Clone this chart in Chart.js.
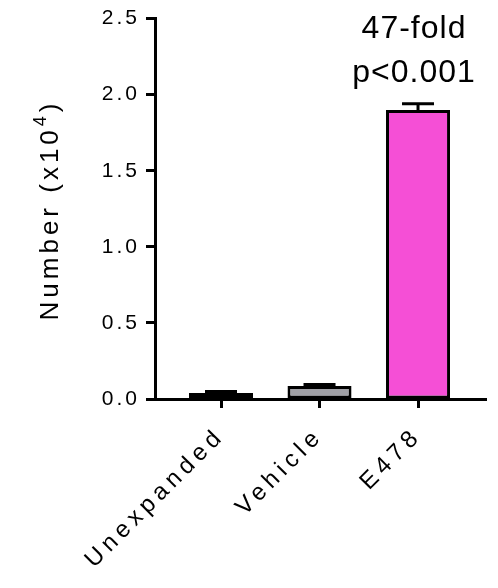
<!DOCTYPE html>
<html>
<head>
<meta charset="utf-8">
<script src="https://cdn.jsdelivr.net/npm/chart.js@4.4.1/dist/chart.umd.min.js"></script>
<style>
  body { margin: 0; background: #fff; }
</style>
</head>
<body>
<canvas id="myChart" width="498" height="588"></canvas>
<script>
var categories = ['Unexpanded', 'Vehicle', 'E478'];
var means = [0.04, 0.085, 1.90];
var errors = [0.01, 0.01, 0.04];
var barColors = ['#ffffff', '#a0a0a6', '#f54fd6'];
var yTicks = [0, 0.5, 1.0, 1.5, 2.0, 2.5];

var FONT = '"Liberation Sans", Arial, sans-serif';

// GraphPad style spaced-out axis text; each scale gets its own spacing
function spaced(px) {
    return function(scale) {
        if (scale._spaced) return;
        scale._spaced = true;
        var orig = scale.drawLabels;
        scale.drawLabels = function(area) {
            var c = this.ctx;
            var old = c.letterSpacing;
            c.letterSpacing = px;
            orig.call(this, area);
            c.letterSpacing = old;
        };
    };
}

var errorBars = {
    id: 'errorBars',
    afterDatasetsDraw: function(chart) {
        var ctx = chart.ctx;
        var x = chart.scales.x, y = chart.scales.y;
        ctx.save();
        ctx.strokeStyle = '#000';
        ctx.lineWidth = 3;
        for (var i = 0; i < means.length; i++) {
            var px = x.getPixelForValue(i);
            var top = y.getPixelForValue(means[i] + errors[i]);
            var base = y.getPixelForValue(means[i]);
            ctx.beginPath();
            ctx.moveTo(px, base);
            ctx.lineTo(px, top);
            ctx.moveTo(px - 16, top);
            ctx.lineTo(px + 16, top);
            ctx.stroke();
        }
        ctx.restore();
    }
};

var labels = {
    id: 'labels',
    afterDraw: function(chart) {
        var ctx = chart.ctx;
        ctx.save();
        ctx.fillStyle = '#000';

        // y axis title with superscript
        ctx.letterSpacing = '4px';
        ctx.translate(58, 210);
        ctx.rotate(-Math.PI / 2);
        ctx.font = '26px ' + FONT;
        var a = 'Number (x10', b = '4', c = ')';
        var wa = ctx.measureText(a).width;
        ctx.font = '18px ' + FONT;
        var wb = ctx.measureText(b).width;
        ctx.font = '26px ' + FONT;
        var wc = ctx.measureText(c).width;
        var start = -(wa + wb + wc) / 2;
        ctx.textAlign = 'left';
        ctx.textBaseline = 'alphabetic';
        ctx.fillText(a, start, 0);
        ctx.font = '18px ' + FONT;
        ctx.fillText(b, start + wa, -12);
        ctx.font = '26px ' + FONT;
        ctx.fillText(c, start + wa + wb, 0);
        ctx.restore();

        // significance note above E478
        ctx.save();
        ctx.letterSpacing = '1px';
        ctx.fillStyle = '#000';
        ctx.font = '32px ' + FONT;
        ctx.textAlign = 'center';
        ctx.textBaseline = 'alphabetic';
        var cx = chart.scales.x.getPixelForValue(2) - 4;
        ctx.fillText('47-fold', cx, 38);
        ctx.fillText('p<0.001', cx, 82);
        ctx.restore();
    }
};

var ctx = document.getElementById('myChart').getContext('2d');
var myChart = new Chart(ctx, {
    type: 'bar',
    data: {
        datasets: [{
            data: means.map(function(v, i) { return { x: i, y: v }; }),
            backgroundColor: barColors,
            borderColor: '#000',
            borderWidth: 3,
            borderSkipped: false,
            barPercentage: 0.65,
            categoryPercentage: 1
        }]
    },
    options: {
        responsive: false,
        animation: false,
        layout: {
            padding: { top: 15, right: 12, left: 0, bottom: 0 }
        },
        plugins: {
            legend: { display: false },
            tooltip: { enabled: false }
        },
        scales: {
            x: {
                type: 'linear',
                offset: false,
                min: -0.67,
                max: 2.69,
                afterBuildTicks: function(scale) {
                    scale.ticks = categories.map(function(c, i) { return { value: i }; });
                },
                afterFit: function(scale) {
                    scale.height = 189;
                },
                afterUpdate: spaced('5px'),
                ticks: {
                    autoSkip: false,
                    minRotation: 45,
                    maxRotation: 45,
                    padding: 14,
                    color: '#000',
                    font: { family: FONT, size: 24 },
                    callback: function(v) { return categories[v]; }
                },
                grid: {
                    offset: false,
                    drawOnChartArea: false,
                    drawTicks: true,
                    tickLength: 9,
                    tickWidth: 3,
                    tickColor: '#000'
                },
                border: { color: '#000', width: 3 }
            },
            y: {
                min: 0,
                max: 2.5,
                afterBuildTicks: function(scale) {
                    scale.ticks = yTicks.map(function(v) { return { value: v }; });
                },
                afterFit: function(scale) {
                    scale.width = 155;
                },
                afterUpdate: spaced('3px'),
                ticks: {
                    padding: 6,
                    color: '#000',
                    font: { family: FONT, size: 21 },
                    callback: function(v) { return v.toFixed(1); }
                },
                grid: {
                    drawOnChartArea: false,
                    drawTicks: true,
                    tickLength: 9,
                    tickWidth: 3,
                    tickColor: '#000'
                },
                border: { color: '#000', width: 3 }
            }
        }
    },
    plugins: [errorBars, labels]
});
</script>
</body>
</html>
